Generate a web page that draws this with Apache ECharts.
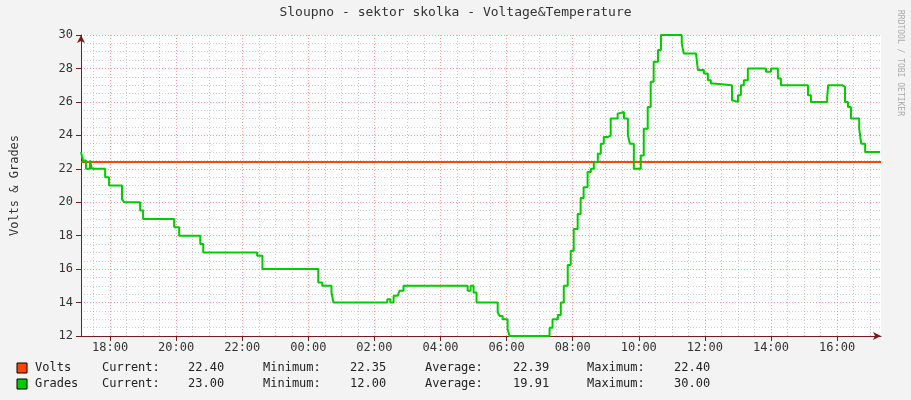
<!DOCTYPE html>
<html><head><meta charset="utf-8">
<script src="https://cdn.jsdelivr.net/npm/echarts@6/dist/echarts.min.js"></script>
<style>html,body{margin:0;padding:0;background:#f3f3f3}#c{width:911px;height:400px}</style>
</head><body><div id="c"></div>
<script>
// hours since midnight of day 1 (values > 24 are the next day)
const startHour = 17.12, endHour = 41.33;
const gradeHours = [17.12,17.18,17.27,17.39,17.45,17.85,17.97,18.36,18.42,18.91,19.0,19.94,20.09,20.73,20.82,22.45,22.61,24.30,24.42,24.70,24.76,26.39,26.48,26.58,26.70,26.76,26.88,28.82,28.91,29.0,29.09,29.73,29.79,29.88,30.03,30.09,31.30,31.39,31.55,31.64,31.73,31.85,31.94,32.03,32.15,32.24,32.33,32.45,32.55,32.64,32.76,32.85,32.94,33.06,33.15,33.36,33.42,33.55,33.67,33.73,33.85,34.06,34.15,34.27,34.36,34.45,34.58,34.67,35.30,35.36,35.73,35.79,35.97,36.09,36.18,36.27,36.82,36.88,37.0,37.09,37.18,37.30,37.85,38.0,38.21,38.30,39.12,39.21,39.70,39.73,40.15,40.24,40.33,40.42,40.67,40.73,40.85,41.30];
const gradeValues = [23,22.5,22,22.5,22,21.5,21,20.2,20,19.5,19,18.5,18,17.5,17,16.8,16,15.2,15,14.6,14,14.2,14,14.4,14.5,14.7,15,14.7,15,14.6,14,13.4,13.2,13,12.4,12,12.5,13,13.25,14,15,16.25,17.1,18.4,19.3,20.25,20.9,21.8,22,22.4,22.9,23.5,23.9,24,25,25.3,25.4,25,24,23.5,22,22.8,24.4,25.7,27.2,28.4,29.1,30,29.5,28.9,28.8,27.9,27.7,27.3,27.1,27,26.1,26,26.4,27,27.3,28,27.8,28,27.4,27,26.4,26,26.2,27,26.9,26,25.7,25,24.4,23.5,23,23];
const voltHours = [17.12, 41.33];
const voltValues = [22.4, 22.4];
const majorTickHours = [18,20,22,24,26,28,30,32,34,36,38,40];
const minorTickHours = [];
for (let h = 17.5; h < endHour; h += 0.5) minorTickHours.push(h);
const legendRows = [
  {name:'Volts', color:'#ff4500', vals:['22.40','22.35','22.39','22.40']},
  {name:'Grades', color:'#00cc00', vals:['23.00','12.00','19.91','30.00']}
];
const statLabels = ['Current:','Minimum:','Average:','Maximum:'];

const mono = 'DejaVu Sans Mono';
const fmt = h => String(Math.round(h) % 24).padStart(2,'0') + ':00';
const chart = echarts.init(document.getElementById('c'));
const graphics = [
  {type:'text', left:'center', top:6, style:{text:'Sloupno - sektor skolka - Voltage&Temperature', font:'13px '+mono, fill:'#333'}},
  {type:'text', x:904, y:10, rotation:-Math.PI/2, style:{text:'RRDTOOL / TOBI OETIKER', font:'8px '+mono, fill:'#aaa'}}
];
const labelX = [102,263,425,587], valX = [188,350,513,674];
legendRows.forEach((r,i) => {
  const y = 362 + i*16;
  graphics.push({type:'rect', shape:{x:17,y:y+1,width:10,height:10}, style:{fill:r.color, stroke:'#000', lineWidth:1}});
  graphics.push({type:'text', x:35, y:y, style:{text:r.name, font:'12px '+mono, fill:'#222'}});
  statLabels.forEach((s,j) => {
    graphics.push({type:'text', x:labelX[j], y:y, style:{text:s, font:'12px '+mono, fill:'#222'}});
    graphics.push({type:'text', x:valX[j], y:y, style:{text:r.vals[j], font:'12px '+mono, fill:'#222'}});
  });
});
const gridMarks = minorTickHours.map(h => ({xAxis:h, lineStyle:{color: majorTickHours.includes(h)?'rgba(255,120,120,0.7)':'rgba(150,150,150,0.5)', type:[1,2], width:1}}));
chart.setOption({
  backgroundColor:'#f3f3f3',
  animation:false,
  graphic:graphics,
  grid:{left:81, right:30, top:35, bottom:64, show:true, backgroundColor:'#fff', borderWidth:0},
  xAxis:{type:'value', min:startHour, max:endHour,
    axisLine:{lineStyle:{color:'#7a1a1a'}, symbol:['none','arrow'], symbolSize:[6,8]},
    axisTick:{show:true, customValues:majorTickHours, lineStyle:{color:'#7a1a1a'}},
    axisLabel:{customValues:majorTickHours, formatter:fmt, fontFamily:mono, fontSize:12, color:'#333', margin:6},
    splitLine:{show:false}},
  yAxis:{type:'value', min:12, max:30, interval:2, name:'Volts & Grades', nameLocation:'middle', nameGap:60,
    nameTextStyle:{fontFamily:mono, fontSize:12, color:'#333'},
    axisLine:{show:true, lineStyle:{color:'#7a1a1a'}, symbol:['none','arrow'], symbolSize:[6,8]},
    axisTick:{show:true, lineStyle:{color:'#7a1a1a'}},
    axisLabel:{fontFamily:mono, fontSize:12, color:'#333'},
    splitLine:{lineStyle:{color:'rgba(255,120,120,0.7)', type:[1,2]}},
    minorTick:{show:false, splitNumber:4},
    minorSplitLine:{show:true, lineStyle:{color:'rgba(150,150,150,0.45)', type:[1,2]}}},
  series:[
    {type:'line', data:voltHours.map((h,i)=>[h,voltValues[i]]), symbol:'none', lineStyle:{color:'#ff4500', width:2}, z:3,
     markLine:{silent:true, symbol:'none', label:{show:false}, data:gridMarks, z:1}},
    {type:'line', step:'end', data:gradeHours.map((h,i)=>[h,gradeValues[i]]), symbol:'none', lineStyle:{color:'#00cc00', width:2}, z:4}
  ]
});
</script></body></html>
